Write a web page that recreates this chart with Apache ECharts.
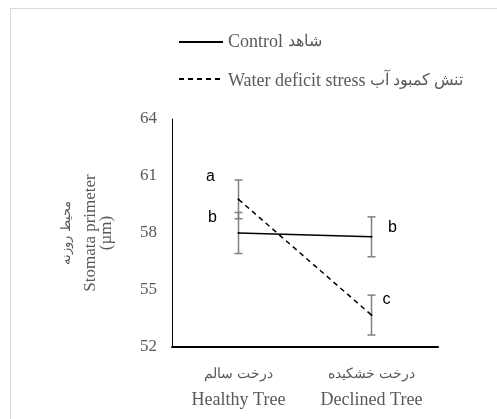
<!DOCTYPE html>
<html>
<head>
<meta charset="utf-8">
<script src="https://cdn.jsdelivr.net/npm/echarts@6/dist/echarts.min.js"></script>
<style>
  html, body { margin: 0; padding: 0; background: #fff; }
  #main { width: 497px; height: 419px; }
</style>
</head>
<body>
<div id="main"></div>
<script>
// data
var categories = ['Healthy Tree', 'Declined Tree'];
var categoriesFa = ['درخت سالم', 'درخت خشکیده'];
var seriesEn = ['Control', 'Water deficit stress'];
var seriesFa = ['شاهد', 'تنش کمبود آب'];
var seriesNames = [seriesEn[0] + ' ' + seriesFa[0], seriesEn[1] + ' ' + seriesFa[1]];
var controlMean = [58.0, 57.8];
var controlErr = [1.08, 1.05];
var stressMean = [59.77, 53.68];
var stressErr = [1.02, 1.05];
var controlLetters = ['b', 'b'];
var stressLetters = ['a', 'c'];
var yTicks = [52, 55, 58, 61, 64];

var serif = 'Liberation Serif';
var grayText = '#595959';

// label offsets (styling, not data)
var controlLabelOffset = [[-26, -15], [21, -9]];
var stressLabelOffset = [[-28, -23], [15, -15]];

function makePoints(means, letters, offsets) {
  return means.map(function (v, i) {
    return {
      value: v,
      label: {
        show: true,
        position: 'inside',
        offset: offsets[i],
        formatter: letters[i]
      }
    };
  });
}

var errData = [];
for (var i = 0; i < categories.length; i++) {
  errData.push([i, controlMean[i] - controlErr[i], controlMean[i] + controlErr[i]]);
  errData.push([i, stressMean[i] - stressErr[i], stressMean[i] + stressErr[i]]);
}

// legend texts drawn as plain graphic text, english then persian
var measureCtx = document.createElement('canvas').getContext('2d');
measureCtx.font = '18px "Liberation Serif"';
var legendTexts = [];
seriesEn.forEach(function (en, k) {
  var y = 42 + k * 39;
  var w = measureCtx.measureText(en + ' ').width;
  legendTexts.push({
    type: 'text', x: 228, y: y,
    style: { text: en, fontSize: 18, fontFamily: serif, fill: grayText, verticalAlign: 'middle' }
  });
  legendTexts.push({
    type: 'text', x: 228 + w, y: y,
    style: { text: seriesFa[k], fontSize: 16, fontFamily: serif, fill: grayText, verticalAlign: 'middle' }
  });
});

var chart = echarts.init(document.getElementById('main'));

var letterLabel = {
  color: '#000',
  fontFamily: 'Liberation Sans',
  fontSize: 16
};

var option = {
  animation: false,
  backgroundColor: '#fff',
  textStyle: { fontFamily: serif },
  graphic: [
    { type: 'line', shape: { x1: 10, y1: 8.5, x2: 497, y2: 8.5 }, style: { stroke: '#d9d9d9', lineWidth: 1 } },
    { type: 'line', shape: { x1: 10.5, y1: 8, x2: 10.5, y2: 419 }, style: { stroke: '#d9d9d9', lineWidth: 1 } }
  ].concat(legendTexts),
  legend: {
    orient: 'vertical',
    left: 178,
    top: 32,
    padding: 0,
    itemWidth: 44,
    itemHeight: 20,
    itemGap: 19,
    itemStyle: { opacity: 0 },
    data: seriesNames,
    formatter: function () { return ''; }
  },
  grid: { left: 172, top: 119, right: 59, bottom: 72 },
  xAxis: {
    type: 'category',
    data: categories,
    boundaryGap: true,
    axisLine: { lineStyle: { color: '#000', width: 2 } },
    axisTick: { show: false },
    axisLabel: {
      margin: 14,
      interval: 0,
      formatter: function (v, idx) {
        return '{fa|' + categoriesFa[idx] + '}\n{en|' + v + '}';
      },
      rich: {
        fa: { fontSize: 14, color: grayText, fontFamily: serif, lineHeight: 26 },
        en: { fontSize: 18, color: grayText, fontFamily: serif, lineHeight: 26 }
      }
    }
  },
  yAxis: {
    type: 'value',
    min: yTicks[0],
    max: yTicks[yTicks.length - 1],
    interval: 3,
    splitLine: { show: false },
    axisLine: { show: true, lineStyle: { color: '#000', width: 1 } },
    axisTick: { show: false },
    axisLabel: { color: grayText, fontFamily: serif, fontSize: 17, margin: 15 },
    name: '{fa|محیط روزنه}\n{en|Stomata primeter}\n{en|(µm)}',
    nameLocation: 'middle',
    nameRotate: 90,
    nameGap: 57,
    nameTextStyle: {
      rich: {
        fa: { fontSize: 13, color: grayText, fontFamily: serif, lineHeight: 32 },
        en: { fontSize: 17, color: grayText, fontFamily: serif, lineHeight: 16 }
      }
    }
  },
  series: [
    {
      type: 'custom',
      name: 'err',
      z: 1,
      silent: true,
      renderItem: function (params, api) {
        var x = api.value(0);
        var lo = api.coord([x, api.value(1)]);
        var hi = api.coord([x, api.value(2)]);
        var cap = 4;
        var st = { stroke: '#808080', lineWidth: 1.5 };
        return {
          type: 'group',
          children: [
            { type: 'line', shape: { x1: hi[0], y1: hi[1], x2: lo[0], y2: lo[1] }, style: st },
            { type: 'line', shape: { x1: hi[0] - cap, y1: hi[1], x2: hi[0] + cap, y2: hi[1] }, style: st },
            { type: 'line', shape: { x1: lo[0] - cap, y1: lo[1], x2: lo[0] + cap, y2: lo[1] }, style: st }
          ]
        };
      },
      encode: { x: 0, y: [1, 2] },
      data: errData
    },
    {
      type: 'line',
      name: seriesNames[0],
      z: 3,
      symbol: 'circle',
      symbolSize: 2,
      itemStyle: { color: '#000' },
      lineStyle: { color: '#000', width: 1.5, type: 'solid' },
      label: letterLabel,
      data: makePoints(controlMean, controlLetters, controlLabelOffset)
    },
    {
      type: 'line',
      name: seriesNames[1],
      z: 3,
      symbol: 'circle',
      symbolSize: 2,
      itemStyle: { color: '#000' },
      lineStyle: { color: '#000', width: 1.5, type: [5, 4] },
      label: letterLabel,
      data: makePoints(stressMean, stressLetters, stressLabelOffset)
    }
  ]
};

chart.setOption(option);
</script>
</body>
</html>
